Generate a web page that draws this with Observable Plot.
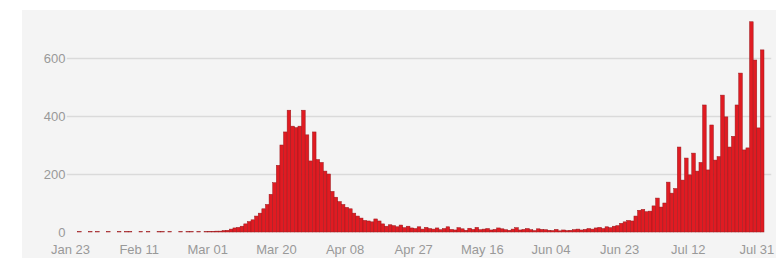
<!DOCTYPE html>
<html><head><meta charset="utf-8">
<script src="https://cdn.jsdelivr.net/npm/d3@7"></script>
<script src="https://cdn.jsdelivr.net/npm/@observablehq/plot@0.6"></script>
<style>
html,body{margin:0;padding:0;background:#fff;}
#wrap{position:absolute;left:22px;top:10px;width:754px;height:248px;background:#f4f4f4;}
</style></head><body><div id="wrap"></div>
<script>
const startDate = "2020-01-23";
const jan = [0,1,0,0,1,0,1,0,0];
const feb = [1,0,0,1,0,1,1,0,0,1,0,1,0,0,1,1,0,1,0,0,1,0,1,1,0,1,0,1,2];
const mar = [2,3,3,5,6,10,14,16,20,28,36,42,55,65,80,95,130,170,230,300,345,420,365,360,365,420,335,245,345,250,240];
const apr = [210,200,140,120,105,95,85,80,65,55,48,40,38,35,45,38,28,20,25,22,18,24,15,20,14,12,18,10,16,12];
const may = [10,14,8,12,18,9,7,15,11,6,13,9,16,8,10,12,7,9,14,11,8,6,10,15,7,9,12,8,5,11,9];
const jun = [8,6,5,9,4,7,5,6,8,10,7,9,12,10,14,16,12,18,15,20,22,30,35,40,38,55,75,78,70,72];
const jul = [90,117,86,100,172,134,150,293,179,255,197,272,210,240,438,214,369,248,260,472,397,293,330,438,548,283,290,725,593,359,628];
const xTickLabels = ["Jan 23","Feb 11","Mar 01","Mar 20","Apr 08","Apr 27","May 16","Jun 04","Jun 23","Jul 12","Jul 31"];
const yTicks = [0,200,400,600];

const values = [...jan, ...feb, ...mar, ...apr, ...may, ...jun, ...jul];
const start = new Date(startDate + "T00:00:00Z");
const data = values.map((v, i) => ({date: d3.utcDay.offset(start, i), value: v}));
const fmt = d3.utcFormat("%b %d");
const tickDates = d3.range(0, values.length, 19).map(i => d3.utcDay.offset(start, i))
  .filter(d => xTickLabels.includes(fmt(d)));

const chart = Plot.plot({
  width: 754, height: 248,
  marginLeft: 52, marginRight: 12, marginTop: 4.5, marginBottom: 26,
  style: {background: "transparent", fontFamily: "'Liberation Sans', Arial, sans-serif", fontSize: "13px", color: "#999"},
  x: {type: "utc", domain: [start, d3.utcDay.offset(start, values.length)], label: null},
  y: {domain: [0, 750], label: null},
  marks: [
    Plot.ruleY([200, 400, 600], {
      x1: () => d3.utcDay.offset(start, -1.1),
      x2: () => d3.utcDay.offset(start, values.length + 2.5),
      stroke: "#dadada", strokeWidth: 1.5
    }),
    Plot.rectY(data, {
      x1: "date", x2: d => d3.utcDay.offset(d.date, 1), y: "value",
      fill: "#e01b22", stroke: "#9a1a1e", strokeWidth: 0.5
    }),
    Plot.axisX({ticks: tickDates, tickFormat: fmt, tickSize: 0, tickPadding: 12, dx: -4, fill: "#999", label: null}),
    Plot.axisY({ticks: yTicks, tickSize: 0, tickPadding: 9, fill: "#999", label: null})
  ]
});
document.getElementById("wrap").appendChild(chart);
</script></body></html>
